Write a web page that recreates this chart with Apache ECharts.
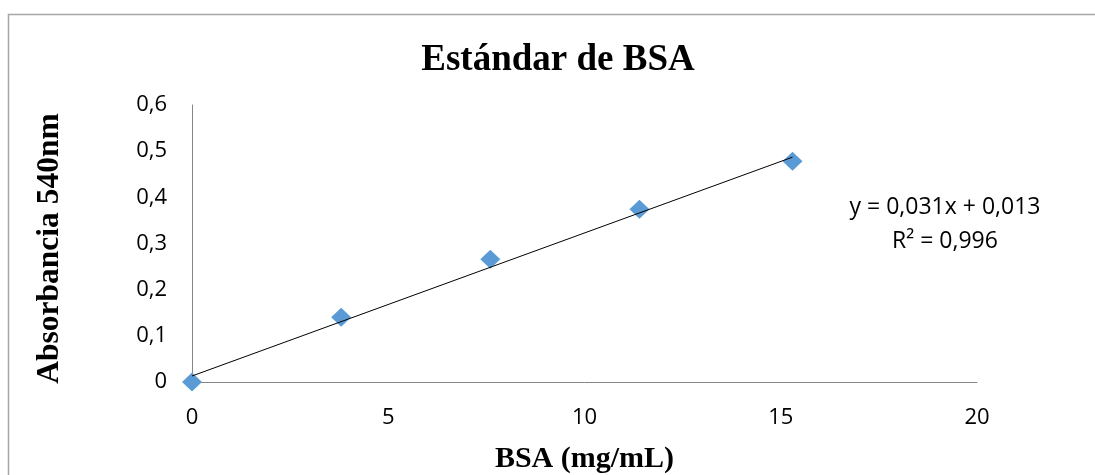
<!DOCTYPE html>
<html>
<head>
<meta charset="utf-8">
<script src="https://cdn.jsdelivr.net/npm/echarts@6/dist/echarts.min.js"></script>
<style>html,body{margin:0;padding:0;background:#fff}#c{width:1095px;height:475px}</style>
</head>
<body>
<div id="c"></div>
<script>
// Data
var bsaConc = [0, 3.8, 7.6, 11.4, 15.3];
var absorbance = [0, 0.140, 0.266, 0.374, 0.478];
var trendX = [0, 15.3];
var trendY = [0.013, 0.487];
var xTicks = [0, 5, 10, 15, 20];
var yTicks = [0, 0.1, 0.2, 0.3, 0.4, 0.5, 0.6];
var titleText = 'Estándar de BSA';
var xName = 'BSA (mg/mL)';
var yName = 'Absorbancia 540nm';
var eqText = 'y = 0,031x + 0,013\nR² = 0,996';

var chart = echarts.init(document.getElementById('c'), null, {renderer: 'canvas'});
var fmt = function (v) { return String(v).replace('.', ','); };
var option = {
  animation: false,
  backgroundColor: '#ffffff',
  title: {
    text: titleText,
    left: 553, top: 37, textAlign: 'center',
    textStyle: {fontFamily: 'Liberation Serif', fontWeight: 'bold', fontSize: 37, color: '#000'}
  },
  grid: {left: 192, right: 118, top: 105, bottom: 93, outerBoundsMode: 'none', containLabel: false},
  xAxis: {
    type: 'value', min: xTicks[0], max: xTicks[xTicks.length - 1], interval: 5,
    name: xName, nameLocation: 'middle', nameGap: 62,
    nameTextStyle: {fontFamily: 'Liberation Serif', fontWeight: 'bold', fontSize: 30, color: '#000'},
    axisLine: {lineStyle: {color: '#868686', width: 1}},
    axisTick: {show: false},
    splitLine: {show: false},
    axisLabel: {color: '#000', fontFamily: 'Open Sans', fontSize: 22, margin: 25, formatter: fmt}
  },
  yAxis: {
    type: 'value', min: yTicks[0], max: yTicks[yTicks.length - 1], interval: 0.1,
    name: yName, nameLocation: 'middle', nameGap: 126, nameRotate: 90,
    nameTextStyle: {fontFamily: 'Liberation Serif', fontWeight: 'bold', fontSize: 31.5, color: '#000', padding: [0, 10, 0, 0]},
    axisLine: {show: true, lineStyle: {color: '#868686', width: 1}},
    axisTick: {show: false},
    splitLine: {show: false},
    axisLabel: {color: '#000', fontFamily: 'Open Sans', fontSize: 22, margin: 25, formatter: fmt}
  },
  series: [
    {
      type: 'line', data: trendX.map(function (x, i) { return [x, trendY[i]]; }),
      showSymbol: false, symbol: 'none', lineStyle: {color: '#000', width: 1}, z: 3, silent: true
    },
    {
      type: 'scatter', data: bsaConc.map(function (x, i) { return [x, absorbance[i]]; }),
      symbol: 'diamond', symbolSize: [20, 19], itemStyle: {color: '#5B9BD5', opacity: 1}, z: 2
    }
  ],
  graphic: [
    {type: 'rect', shape: {x: 8.5, y: 14.5, width: 1200, height: 600}, style: {fill: 'none', stroke: '#a6a6a6', lineWidth: 1.5}, z: -1},
    {type: 'text', x: 945, y: 190, style: {text: eqText, textAlign: 'center', font: '23px "Open Sans"', lineHeight: 34, fill: '#000'}}
  ]
};
chart.setOption(option);
</script>
</body>
</html>
